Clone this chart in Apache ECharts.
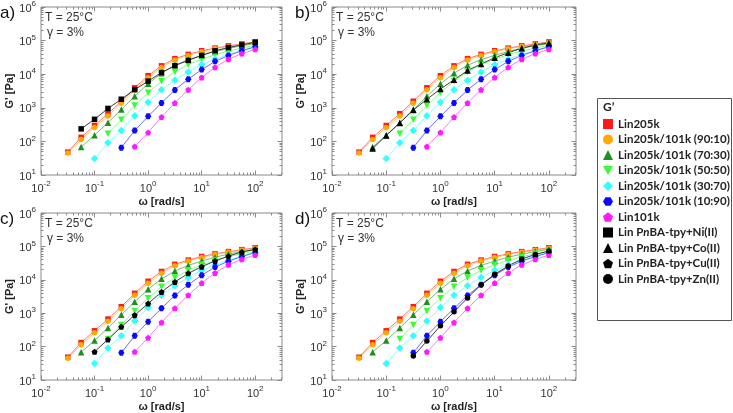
<!DOCTYPE html>
<html><head><meta charset="utf-8">
<script src="https://cdn.jsdelivr.net/npm/echarts@6/dist/echarts.min.js"></script>
<style>html,body{margin:0;padding:0;background:#fff}#c{width:733px;height:413px}</style>
</head><body><div id="c"></div>
<script>
// ---- data (omega in rad/s, G' in Pa) ----
const freq = [0.0316,0.0562,0.1,0.178,0.316,0.562,1,1.78,3.16,5.62,10,17.8,31.6,56.2,100];
const lin205k   = [48,132,297,667,1566,3936,9040,17740,29060,38900,49870,59700,69800,79800,91400];
const blend9010 = [45,113,260,570,1370,3440,7900,15800,26500,36300,46500,57000,66700,76400,87300];
const blend7030 = [null,68,153,362,893,2200,5200,10700,18400,27000,36500,47500,59000,70000,82000];
const blend5050 = [null,null,null,168,444,1170,2820,6220,11700,19200,28000,38000,49000,60000,72000];
const blend3070 = [null,null,31,91,211,582,1470,3460,6660,11700,19200,28000,38500,50000,64000];
const blend1090 = [null,null,null,null,65,211,556,1400,3380,7130,13700,24100,36000,50000,66000];
const lin101k   = [null,null,null,null,null,70,184,531,1400,3460,8000,16100,28000,41000,55000];
const pnbaNi = [null,236,454,955,1800,3460,6220,11200,18000,25800,36200,49700,62200,74600,89300];
const pnbaCo = [null,61,150,354,853,1800,3620,6810,12800,20100,30900,43400,59500,74600,85300];
const pnbaCu = [null,null,70,164,391,871,1940,4330,8610,15600,24700,36500,51400,67700,81300];
const pnbaZn = [null,null,null,null,52,146,419,1100,2870,7170,14600,25900,41900,57700,72600];

const xMajorTicks = [0.01, 0.1, 1, 10, 100];
const yMajorTicks = [10, 100, 1000, 10000, 100000, 1000000];
const minorSteps = [2,3,4,5,6,7,8,9];
const panelLabels = ['a)','b)','c)','d)'];
const condText1 = 'T = 25°C';
const condText2 = 'γ = 3%';

// ---- styling ----
const X_MIN = 0.01, X_MAX = 316.23, Y_MIN = 10, Y_MAX = 1e6;
const FONT = "'Liberation Sans', Arial, sans-serif";
const LFONT = "Lato, 'Open Sans', sans-serif";
const DOWN = 'path://M0,0L10,0L5,9Z';
const HEX = 'path://M2.5,0L7.5,0L10,4.33L7.5,8.66L2.5,8.66L0,4.33Z';
const PENT = 'path://M5,0L10,3.8L8.1,9.5L1.9,9.5L0,3.8Z';

function minorOf(majors, max) {
  const out = [];
  majors.forEach(m => minorSteps.forEach(k => { const v = +(m * k).toPrecision(3); if (v < max) out.push(v); }));
  return out;
}
const xMinorTicks = minorOf(xMajorTicks, X_MAX);
const yMinorTicks = minorOf(yMajorTicks, Y_MAX);

const coloredDefs = [
  {name:'Lin205k', data:lin205k, color:'#ff1a1a', symbol:'rect', size:5.5},
  {name:'Lin205k/101k (90:10)', data:blend9010, color:'#ffaa00', symbol:'circle', size:5.5},
  {name:'Lin205k/101k (70:30)', data:blend7030, color:'#1f8f1f', symbol:'triangle', size:6.5},
  {name:'Lin205k/101k (50:50)', data:blend5050, color:'#33ff33', symbol:DOWN, size:6.5},
  {name:'Lin205k/101k (30:70)', data:blend3070, color:'#33ffff', symbol:'diamond', size:7.5},
  {name:'Lin205k/101k (10:90)', data:blend1090, color:'#0a0aff', symbol:HEX, size:6},
  {name:'Lin101k', data:lin101k, color:'#ff1aff', symbol:PENT, size:6}
];
const blackDefs = [
  {name:'Lin PnBA-tpy+Ni(II)', data:pnbaNi, color:'#000', symbol:'rect', size:5.5},
  {name:'Lin PnBA-tpy+Co(II)', data:pnbaCo, color:'#000', symbol:'triangle', size:6.5},
  {name:'Lin PnBA-tpy+Cu(II)', data:pnbaCu, color:'#000', symbol:PENT, size:6},
  {name:'Lin PnBA-tpy+Zn(II)', data:pnbaZn, color:'#000', symbol:'circle', size:5.5}
];

const panels = [
  {left:41, top:7, width:241, height:168, labelX:0},
  {left:332, top:7, width:244, height:168, labelX:295},
  {left:41, top:213, width:241, height:168, labelX:0},
  {left:332, top:213, width:244, height:168, labelX:295}
];

const supRich = {
  b: {fontSize:11, fontFamily:FONT, color:'#333', lineHeight:14, verticalAlign:'bottom'},
  s: {fontSize:8, fontFamily:FONT, color:'#333', verticalAlign:'top'}
};
function supFmt(v) { const e = Math.round(Math.log10(v)); return '{b|10}{s|' + e + '}'; }
const tickColor = '#8a8a8a';

const grid = [], xAxis = [], yAxis = [], series = [], graphic = [];
panels.forEach((p, gi) => {
  grid.push({left:p.left, top:p.top, width:p.width, height:p.height, show:true,
    borderColor:'#8a8a8a', borderWidth:1, backgroundColor:'transparent'});
  const baseX = {type:'log', logBase:10, gridIndex:gi, min:X_MIN, max:X_MAX,
    axisLine:{show:false}, splitLine:{show:false}, minorTick:{show:false}};
  const baseY = {type:'log', logBase:10, gridIndex:gi, min:Y_MIN, max:Y_MAX,
    axisLine:{show:false}, splitLine:{show:false}, minorTick:{show:false}};
  xAxis.push(Object.assign({}, baseX, {position:'bottom',
    axisTick:{show:true, inside:true, length:4.5, customValues:xMajorTicks, lineStyle:{color:tickColor}},
    axisLabel:{show:true, customValues:xMajorTicks, formatter:supFmt, rich:supRich, margin:5},
    name:'ω [rad/s]', nameLocation:'middle', nameGap:21,
    nameTextStyle:{fontFamily:FONT, fontWeight:'bold', fontSize:11, color:'#222', verticalAlign:'top'}}));
  xAxis.push(Object.assign({}, baseX, {position:'bottom', axisLabel:{show:false},
    axisTick:{show:true, inside:true, length:2.5, customValues:xMinorTicks, lineStyle:{color:tickColor}}}));
  xAxis.push(Object.assign({}, baseX, {position:'top', axisLabel:{show:false},
    axisTick:{show:true, inside:true, length:4.5, customValues:xMajorTicks, lineStyle:{color:tickColor}}}));
  xAxis.push(Object.assign({}, baseX, {position:'top', axisLabel:{show:false},
    axisTick:{show:true, inside:true, length:2.5, customValues:xMinorTicks, lineStyle:{color:tickColor}}}));
  yAxis.push(Object.assign({}, baseY, {position:'left',
    axisTick:{show:true, inside:true, length:4.5, customValues:yMajorTicks, lineStyle:{color:tickColor}},
    axisLabel:{show:true, customValues:yMajorTicks, formatter:supFmt, rich:supRich, margin:5},
    name:"G' [Pa]", nameLocation:'middle', nameGap:25, nameRotate:90,
    nameTextStyle:{fontFamily:FONT, fontWeight:'bold', fontSize:11, color:'#222'}}));
  yAxis.push(Object.assign({}, baseY, {position:'left', axisLabel:{show:false},
    axisTick:{show:true, inside:true, length:2.5, customValues:yMinorTicks, lineStyle:{color:tickColor}}}));
  yAxis.push(Object.assign({}, baseY, {position:'right', axisLabel:{show:false},
    axisTick:{show:true, inside:true, length:4.5, customValues:yMajorTicks, lineStyle:{color:tickColor}}}));
  yAxis.push(Object.assign({}, baseY, {position:'right', axisLabel:{show:false},
    axisTick:{show:true, inside:true, length:2.5, customValues:yMinorTicks, lineStyle:{color:tickColor}}}));

  const defs = coloredDefs.concat([blackDefs[gi]]);
  defs.forEach(d => {
    const pts = [];
    freq.forEach((f, i) => { if (d.data[i] != null) pts.push([f, d.data[i]]); });
    series.push({
      type:'line', name:d.name, xAxisIndex:gi*4, yAxisIndex:gi*4, data:pts,
      symbol:d.symbol, symbolSize:d.size, showSymbol:true,
      itemStyle:{color:d.color}, lineStyle:{color:d.color, width:1, opacity:d.color === '#000' ? 0.75 : 0.6},
      emphasis:{disabled:true}, animation:false, z:2
    });
  });

  graphic.push({type:'text', left:p.labelX, top:p.top - 2,
    style:{text:panelLabels[gi], font:"17px " + FONT, fill:'#111'}});
  graphic.push({type:'text', left:p.left + 4, top:p.top + 5,
    style:{text:condText1, font:"12px " + FONT, fill:'#333'}});
  graphic.push({type:'text', left:p.left + 6, top:p.top + 20,
    style:{text:condText2, font:"12px " + FONT, fill:'#333'}});
});

// legend box and header
graphic.push({type:'rect', left:597, top:98, shape:{x:0, y:0, width:134, height:222},
  style:{fill:'#fff', stroke:'#555', lineWidth:1}, z:-1});
graphic.push({type:'text', left:603, top:101, style:{text:'G’', font:"bold 12px " + LFONT, fill:'#222'}});

const legendData = coloredDefs.concat(blackDefs).map(d => ({name:d.name, icon:d.symbol}));

const option = {
  animation:false,
  backgroundColor:'#fff',
  grid, xAxis, yAxis, series, graphic,
  legend:{
    orient:'vertical', left:598, top:113, itemWidth:10, itemHeight:10, itemGap:3.5,
    selectedMode:false, data:legendData,
    textStyle:{fontFamily:LFONT, fontWeight:'bold', fontSize:11.5, color:'#222', lineHeight:10,
      rich:{i:{fontFamily:LFONT, fontWeight:'bold', fontStyle:'italic', fontSize:11.5, color:'#222', lineHeight:10}}},
    formatter: n => n.replace('PnBA', 'P{i|n}BA')
  }
};
const chart = echarts.init(document.getElementById('c'));
chart.setOption(option);
</script></body></html>
